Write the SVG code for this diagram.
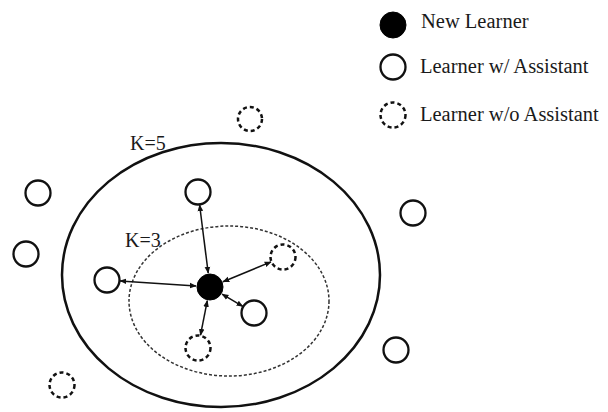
<svg xmlns="http://www.w3.org/2000/svg" width="608" height="412" viewBox="0 0 608 412">
<defs>
<style>
text{font-family:"Liberation Serif","Times New Roman",serif;font-size:20px;fill:#1a1a1a}
.leg{font-size:20.5px}
.solid{fill:#fff;stroke:#111;stroke-width:2.3}
.dash{fill:#fff;stroke:#111;stroke-width:2.5;stroke-dasharray:4 3}
.filled{fill:#000;stroke:#000;stroke-width:1}
.edge{stroke:#111;stroke-width:1.5;fill:none;marker-start:url(#ah);marker-end:url(#ah)}
</style>
<marker id="ah" viewBox="0 0 10 10" refX="9" refY="5" markerWidth="7" markerHeight="7" markerUnits="userSpaceOnUse" orient="auto-start-reverse">
<path d="M0,1 L10,5 L0,9 Z" fill="#111"/>
</marker>
</defs>
<rect width="608" height="412" fill="#fff"/>
<g id="region-k5">
<ellipse cx="221" cy="275" rx="159" ry="132" fill="none" stroke="#111" stroke-width="2.5"/>
<text x="130" y="150">K=5</text>
</g>
<g id="region-k3">
<ellipse cx="229" cy="301" rx="100" ry="75" fill="none" stroke="#333" stroke-width="1.5" stroke-dasharray="3 2"/>
<text x="125" y="247">K=3</text>
</g>
<g id="connectors">
<line class="edge" x1="208.2" y1="273.1" x2="199.6" y2="204.9"/>
<line class="edge" x1="196" y1="286" x2="120" y2="280.9"/>
<line class="edge" x1="223" y1="281.7" x2="271" y2="261.9"/>
<line class="edge" x1="222.1" y1="294.1" x2="242.8" y2="306.4"/>
<line class="edge" x1="207.3" y1="300.7" x2="200.5" y2="335.2"/>
</g>
<g id="new-learner"><circle class="filled" cx="210" cy="287" r="13"/></g>
<g id="n-top"><circle class="solid" cx="198" cy="192" r="12.5"/></g>
<g id="n-left"><circle class="solid" cx="107" cy="280" r="12.5"/></g>
<g id="n-right-dash"><circle class="dash" cx="283" cy="257" r="12.5"/></g>
<g id="n-bottom-right"><circle class="solid" cx="254" cy="313" r="12.5"/></g>
<g id="n-bottom-dash"><circle class="dash" cx="198" cy="348" r="12.5"/></g>
<g id="o-1"><circle class="solid" cx="38" cy="193" r="12.5"/></g>
<g id="o-2"><circle class="solid" cx="26" cy="254" r="12.5"/></g>
<g id="o-3"><circle class="dash" cx="62" cy="385" r="12.5"/></g>
<g id="o-4"><circle class="dash" cx="250" cy="119" r="12"/></g>
<g id="o-5"><circle class="solid" cx="413" cy="213" r="12.5"/></g>
<g id="o-6"><circle class="solid" cx="396" cy="350" r="12.5"/></g>
<g id="legend">
<circle class="filled" cx="393" cy="25" r="13"/>
<text class="leg" x="421" y="28">New Learner</text>
<circle class="solid" cx="393" cy="67" r="12.5"/>
<text class="leg" x="420" y="73">Learner w/ Assistant</text>
<circle class="dash" cx="393" cy="115" r="12.5"/>
<text class="leg" x="420" y="121">Learner w/o Assistant</text>
</g>
</svg>
